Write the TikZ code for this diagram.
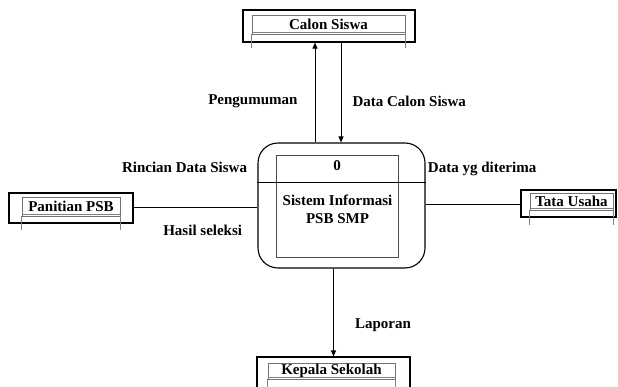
\documentclass[tikz,border=0pt]{standalone}
\usepackage{fontspec}
\setmainfont{Liberation Serif}
\usetikzlibrary{arrows.meta,calc,positioning}
\tikzset{
    % Outer frame of a data store
    store/.style={
        rectangle,
        draw=black,
        line width=1.1pt,
        inner sep=0pt
    },
    % Inner frame that holds the store name
    storein/.style={
        rectangle,
        draw=black!55,
        line width=0.6pt,
        inner sep=0pt,
        font=\fontsize{15}{17}\selectfont\bfseries
    },
    % Process - rounded outer frame
    process/.style={
        rectangle,
        rounded corners=20pt,
        draw=black,
        line width=1.1pt,
        minimum width=167pt,
        minimum height=125pt
    },
    % Process - inner frame
    procin/.style={
        rectangle,
        draw=black!70,
        line width=0.8pt,
        minimum width=122pt,
        minimum height=102pt
    },
    % Text inside the process
    proctext/.style={
        inner sep=0pt,
        align=center,
        font=\fontsize{15}{18}\selectfont\bfseries
    },
    % Flow labels
    flowlabel/.style={
        inner sep=0pt,
        font=\fontsize{15}{17}\selectfont\bfseries
    },
    % Tick marks under the stores
    storetick/.style={
        draw=black!50,
        line width=0.5pt
    },
    % Flow with arrow
    arrow/.style={
        -{Triangle[length=6pt,width=5pt]},
        line width=1pt,
        draw=black
    },
    % Flow without arrow
    flowline/.style={
        line width=1pt,
        draw=black
    }
}

\begin{document}
\begin{tikzpicture}[x=1pt,y=-1pt]

    \useasboundingbox (0,0) rectangle (618,387);

    % ========== PROCESS ==========
    \node[process] (proc) at (341.5,205.5) {};
    \node[procin] (procbox) at (337,206) {};
    \draw[line width=1pt] ($(proc.north west)+(0,40)$) -- ($(proc.north east)+(0,40)$);
    \node[proctext] (procnum) at (337,166) {0};
    \node[proctext] (procname) at (337.5,209) {Sistem Informasi\\PSB SMP};

    % ========== DATA STORES ==========
    % Calon Siswa
    \node[store, minimum width=172pt, minimum height=32pt] (calon) at (329,26) {};
    \node[storein, minimum width=153pt, minimum height=19pt] (calonin) at (328.5,24.5) {Calon Siswa};

    % Panitian PSB
    \node[store, minimum width=124pt, minimum height=30pt] (panitia) at (71,208) {};
    \node[storein, minimum width=98pt, minimum height=19pt] (panitiain) at (71,206.5) {Panitian PSB};

    % Tata Usaha
    \node[store, minimum width=95pt, minimum height=27pt] (tata) at (568.5,203.5) {};
    \node[storein, minimum width=83pt, minimum height=17pt] (tatain) at (571.5,201.5) {Tata Usaha};

    % Kepala Sekolah
    \node[store, minimum width=153pt, minimum height=38pt] (kepala) at (333.5,376) {};
    \node[storein, minimum width=127pt, minimum height=16pt] (kepalain) at (331.5,371) {Kepala Sekolah};

    % double bottom line and ticks of the stores
    \foreach \s/\t in {calonin/14, panitiain/14, tatain/15, kepalain/14} {
        \draw[storetick] ($(\s.south west)+(0,-2)$) -- ($(\s.south east)+(0,-2)$);
        \draw[storetick] (\s.south west) -- ++(0,\t);
        \draw[storetick] (\s.south east) -- ++(0,\t);
    }

    % ========== CONNECTION POINTS ==========
    \coordinate (pgbot) at ($(proc.north)+(-26.5,0)$);
    \coordinate (pgtop) at (pgbot |- calon.south);
    \coordinate (dcbot) at ($(proc.north)+(-0.5,0)$);
    \coordinate (dctop) at (dcbot |- calon.south);
    \coordinate (tuend) at ($(tata.west)+(0,1.5)$);
    \coordinate (tustart) at (tuend -| proc.east);

    % ========== FLOWS ==========
    \draw[arrow] (pgbot) -- node[flowlabel, pos=0.416, left=17pt] {Pengumuman} (pgtop);
    \draw[arrow] (dctop) -- node[flowlabel, pos=0.584, right=11pt] {Data Calon Siswa} (dcbot);

    \draw[flowline] (panitia.east) -- node[flowlabel, pos=0.92, above left=35pt and 0pt] {Rincian Data Siswa}
        node[flowlabel, pos=0.88, below left=17pt and 0pt] {Hasil seleksi} (panitia.east -| proc.west);
    \draw[flowline] (tustart) -- node[flowlabel, pos=0.02, above right=29pt and 0pt] {Data yg diterima} (tuend);

    \draw[arrow] (kepala.north |- proc.south) -- node[flowlabel, pos=0.64, right=21pt] {Laporan} (kepala.north);

\end{tikzpicture}
\end{document}
